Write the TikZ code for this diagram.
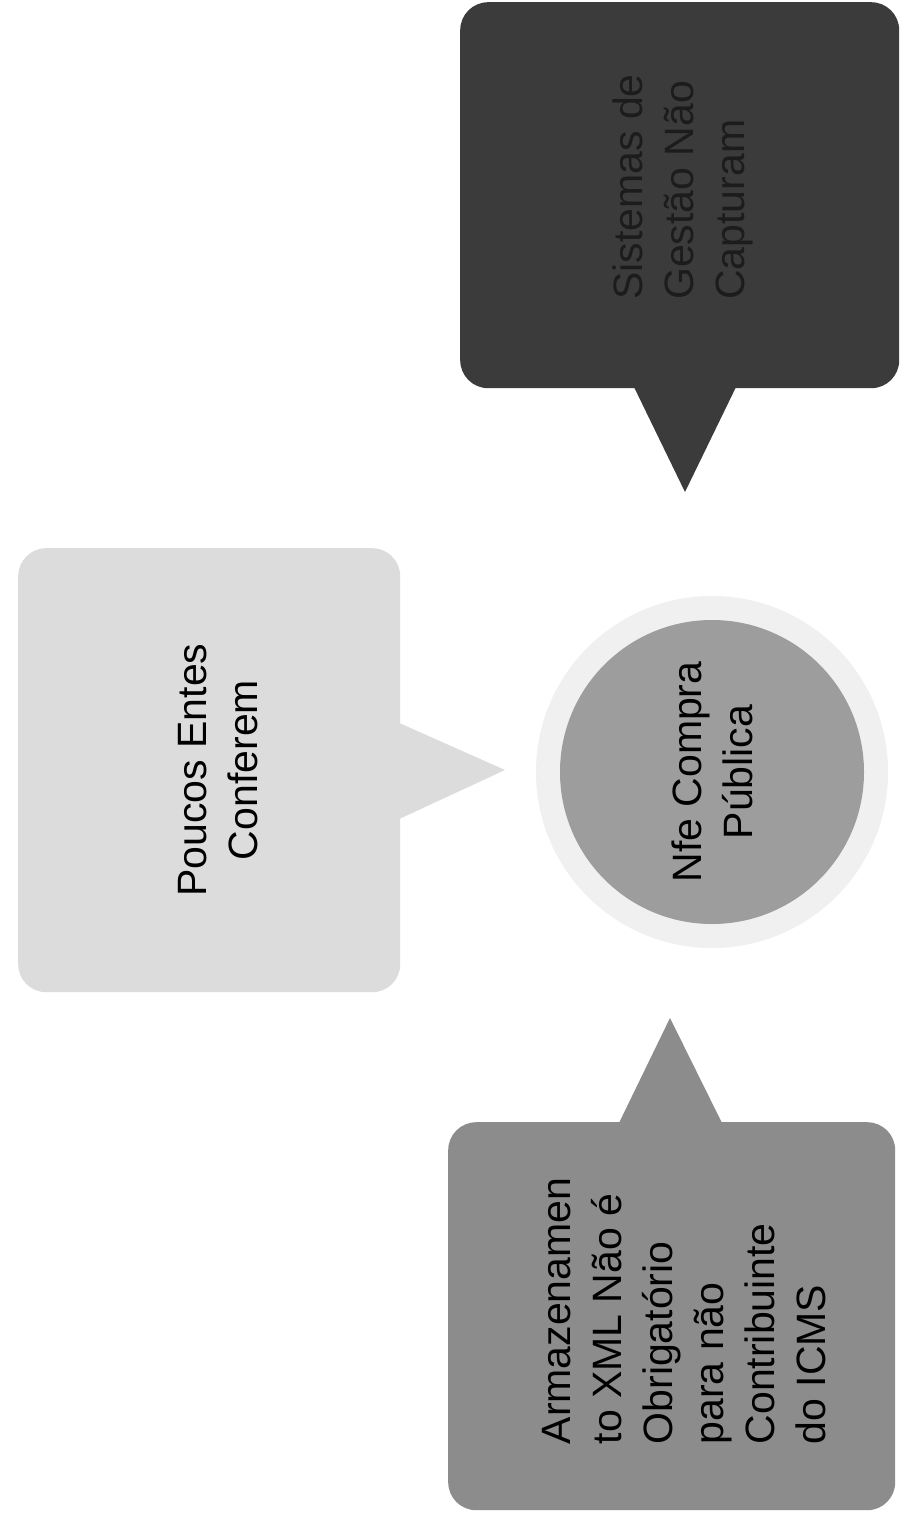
\documentclass[tikz,border=0pt]{standalone}
\usepackage{fontspec}
\setmainfont{Liberation Sans}
\definecolor{darkbox}{HTML}{3B3B3B}
\definecolor{darktxt}{HTML}{1C1C1C}
\definecolor{midbox}{HTML}{8C8C8C}
\definecolor{lightbox}{HTML}{DCDCDC}
\definecolor{circfill}{HTML}{9D9D9D}
\definecolor{ringfill}{HTML}{F0F0F0}
\begin{document}
\begin{tikzpicture}[x=1pt,y=-1pt,
  lbl/.style={rotate=90, font=\fontsize{41}{51}\selectfont, inner sep=0pt},
  bubble/.style={rounded corners=28pt, inner sep=0pt, anchor=north west}]
\useasboundingbox (0,0) rectangle (901,1518);
\fill[white] (0,0) rectangle (901,1518);

% top dark bubble
\node[bubble, fill=darkbox, minimum width=439pt, minimum height=386pt] (sisbox) at (460,2) {};
\coordinate (sistip) at (685,492);
\fill[darkbox] (633,385) -- (sistip) -- (737,385) -- cycle;
\node[lbl, align=left, text=darktxt] (sistxt) at (683,187) {Sistemas de\\Gestão Não\\Capturam};

% left light bubble
\node[bubble, fill=lightbox, minimum width=382pt, minimum height=444pt] (poubox) at (18,548) {};
\coordinate (poutip) at (505,770);
\fill[lightbox] (397,722) -- (poutip) -- (397,820) -- cycle;
\node[lbl, align=center, text=black] (poutxt) at (218,770) {Poucos Entes\\Conferem};

% central circle
\node[circle, fill=ringfill, minimum size=352pt, inner sep=0pt] (ring) at (712,772) {};
\node[circle, fill=circfill, minimum size=304pt, inner sep=0pt] (nfe) at (712,772) {};
\node[lbl, align=center, text=black] (nfetxt) at (nfe.center) {Nfe Compra\\Pública};

% bottom mid bubble
\node[bubble, fill=midbox, minimum width=447pt, minimum height=388pt] (armbox) at (448,1122) {};
\coordinate (armtip) at (670,1018);
\fill[midbox] (618,1125) -- (armtip) -- (723,1125) -- cycle;
\node[lbl, align=left, text=black] (armtxt) at (684,1311) {Armazenamen\\to XML Não é\\Obrigatório\\para não\\Contribuinte\\do ICMS};
\end{tikzpicture}
\end{document}
